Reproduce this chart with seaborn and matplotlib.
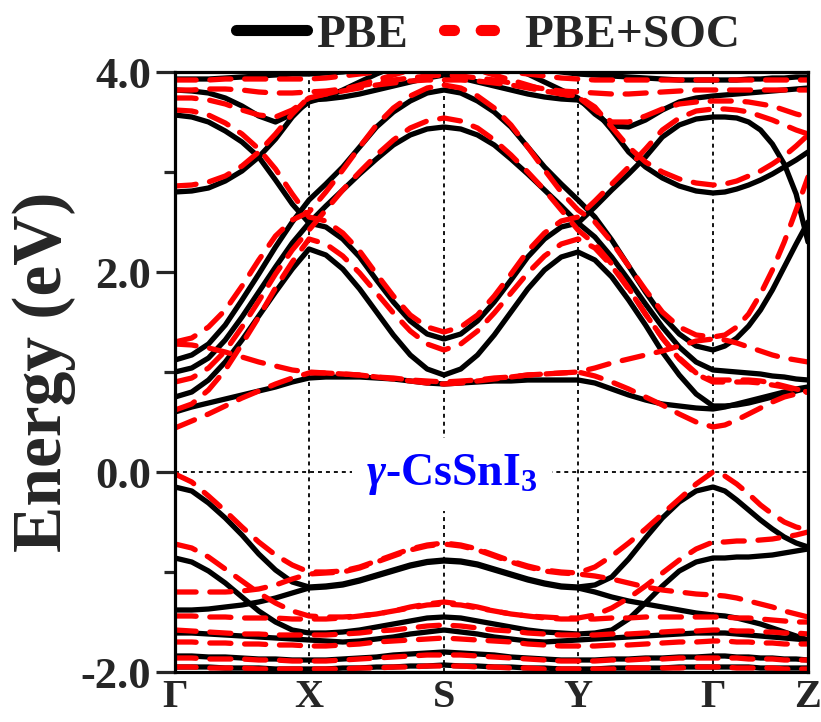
import numpy as np
import pandas as pd
import matplotlib
matplotlib.use("Agg")
import matplotlib.pyplot as plt
import seaborn as sns
from matplotlib.lines import Line2D

sns.set_theme(style="white")
plt.rcParams['font.family'] = ['Liberation Serif', 'DejaVu Serif']
plt.rcParams['font.weight'] = 'bold'
plt.rcParams['axes.unicode_minus'] = False
plt.rcParams['mathtext.fontset'] = 'custom'
plt.rcParams['mathtext.rm'] = 'Liberation Serif:bold'
plt.rcParams['mathtext.it'] = 'Liberation Serif:bold:italic'
plt.rcParams['mathtext.bf'] = 'Liberation Serif:bold'

# high-symmetry points (path distance) and labels
kpath_nodes = [0, 134, 269, 403, 538, 633]
kpath_labels = ['Γ', 'X', 'S', 'Y', 'Γ', 'Z']

# k grid: eighth points on every segment
kgrid = [0.0]
for a, b in zip(kpath_nodes[:-1], kpath_nodes[1:]):
    kgrid += list(np.linspace(a, b, 9)[1:])
kgrid = np.array(kgrid)

# ---- PBE bands (eV), Γ-X | X-S | S-Y | Y-Γ | Γ-Z ----
pbe_v1 = [-0.15, -0.19, -0.31, -0.46, -0.63, -0.82, -0.98, -1.10, -1.15,
          -1.14, -1.12, -1.08, -1.03, -0.98, -0.93, -0.895, -0.88,
          -0.89, -0.92, -0.97, -1.02, -1.07, -1.11, -1.14, -1.15,
          -1.13, -1.05, -0.87, -0.66, -0.46, -0.30, -0.19, -0.15,
          -0.19, -0.28, -0.38, -0.48, -0.57, -0.65, -0.71, -0.75]
pbe_v2 = [-0.86, -0.90, -0.99, -1.11, -1.25, -1.39, -1.50, -1.58, -1.61,
          -1.61, -1.60, -1.58, -1.55, -1.52, -1.49, -1.46, -1.45,
          -1.46, -1.49, -1.52, -1.55, -1.58, -1.60, -1.61, -1.62,
          -1.61, -1.58, -1.47, -1.31, -1.14, -0.99, -0.90, -0.86,
          -0.86, -0.85, -0.85, -0.84, -0.83, -0.81, -0.79, -0.77]
pbe_v3 = [-1.38, -1.38, -1.37, -1.35, -1.33, -1.30, -1.26, -1.21, -1.16,
          -1.15, -1.13, -1.09, -1.04, -0.99, -0.94, -0.905, -0.89,
          -0.90, -0.93, -0.98, -1.03, -1.08, -1.12, -1.15, -1.16,
          -1.20, -1.25, -1.29, -1.32, -1.35, -1.38, -1.41, -1.43,
          -1.44, -1.46, -1.49, -1.52, -1.56, -1.60, -1.64, -1.68]
pbe_v4 = [-1.61, -1.61, -1.62, -1.63, -1.64, -1.65, -1.66, -1.67, -1.68,
          -1.69, -1.70, -1.69, -1.67, -1.65, -1.62, -1.60, -1.58,
          -1.60, -1.62, -1.65, -1.67, -1.69, -1.70, -1.69, -1.68,
          -1.67, -1.66, -1.65, -1.64, -1.63, -1.62, -1.61, -1.61,
          -1.61, -1.62, -1.63, -1.64, -1.65, -1.66, -1.67, -1.68]
pbe_v5 = [-1.84, -1.84, -1.85, -1.85, -1.86, -1.87, -1.87, -1.88, -1.88,
          -1.88, -1.87, -1.86, -1.85, -1.83, -1.82, -1.81, -1.80,
          -1.81, -1.82, -1.83, -1.85, -1.86, -1.87, -1.88, -1.88,
          -1.88, -1.87, -1.87, -1.86, -1.86, -1.85, -1.85, -1.84,
          -1.84, -1.85, -1.85, -1.86, -1.86, -1.87, -1.87, -1.88]
pbe_v6 = [-1.95, -1.95, -1.95, -1.96, -1.96, -1.96, -1.97, -1.97, -1.97,
          -1.97, -1.96, -1.96, -1.95, -1.95, -1.94, -1.94, -1.93,
          -1.94, -1.94, -1.95, -1.95, -1.96, -1.96, -1.97, -1.97,
          -1.97, -1.96, -1.96, -1.96, -1.96, -1.95, -1.95, -1.95,
          -1.95, -1.95, -1.95, -1.96, -1.96, -1.96, -1.96, -1.96]
pbe_c1 = [0.60, 0.65, 0.69, 0.73, 0.77, 0.81, 0.85, 0.90, 0.94,
          0.95, 0.95, 0.95, 0.94, 0.93, 0.91, 0.89, 0.88,
          0.89, 0.90, 0.91, 0.91, 0.92, 0.92, 0.92, 0.92,
          0.89, 0.83, 0.77, 0.72, 0.68, 0.66, 0.64, 0.63,
          0.65, 0.68, 0.71, 0.74, 0.77, 0.80, 0.83, 0.85]
pbe_c2 = [0.75, 0.80, 0.92, 1.10, 1.32, 1.56, 1.80, 2.03, 2.23,
          2.17, 2.03, 1.83, 1.60, 1.37, 1.17, 1.03, 0.97,
          1.03, 1.17, 1.37, 1.60, 1.83, 2.02, 2.15, 2.20,
          2.12, 1.95, 1.72, 1.47, 1.20, 0.97, 0.78, 0.66,
          0.66, 0.67, 0.69, 0.72, 0.75, 0.78, 0.81, 0.84]
pbe_c3 = [3.57, 3.55, 3.50, 3.41, 3.30, 3.15, 2.92, 2.68, 2.49,
          2.45, 2.33, 2.15, 1.92, 1.70, 1.51, 1.38, 1.33,
          1.38, 1.51, 1.70, 1.92, 2.15, 2.33, 2.45, 2.49,
          2.65, 2.82, 2.98, 3.15, 3.35, 3.47, 3.53, 3.55,
          3.55, 3.54, 3.50, 3.42, 3.28, 3.08, 2.78, 2.30]
pbe_c4 = [1.00, 1.04, 1.14, 1.32, 1.55, 1.80, 2.05, 2.29, 2.49,
          2.66, 2.82, 2.98, 3.13, 3.27, 3.37, 3.43, 3.45,
          3.43, 3.37, 3.27, 3.13, 2.98, 2.82, 2.66, 2.49,
          2.35, 2.15, 1.92, 1.68, 1.45, 1.25, 1.10, 1.02,
          1.01, 1.00, 0.99, 0.98, 0.96, 0.95, 0.93, 0.92]
pbe_c5 = [1.12, 1.17, 1.28, 1.47, 1.72, 1.98, 2.25, 2.50, 2.72,
          2.88, 3.05, 3.25, 3.45, 3.60, 3.71, 3.79, 3.82,
          3.79, 3.71, 3.60, 3.45, 3.25, 3.05, 2.88, 2.72,
          2.55, 2.32, 2.06, 1.80, 1.56, 1.38, 1.26, 1.22,
          1.26, 1.34, 1.46, 1.62, 1.82, 2.05, 2.28, 2.50]
pbe_c6 = [2.80, 2.81, 2.84, 2.91, 3.01, 3.15, 3.33, 3.55, 3.72,
          3.73, 3.75, 3.78, 3.82, 3.86, 3.90, 3.94, 3.97,
          3.94, 3.90, 3.86, 3.82, 3.78, 3.75, 3.73, 3.72,
          3.62, 3.42, 3.20, 3.05, 2.94, 2.86, 2.81, 2.79,
          2.80, 2.83, 2.87, 2.92, 2.98, 3.05, 3.12, 3.20]
pbe_c7 = [3.82, 3.81, 3.79, 3.74, 3.66, 3.56, 3.50, 3.58, 3.70,
          3.75, 3.82, 3.90, 3.98, 4.05, 4.10, 4.10, 4.10,
          4.10, 4.10, 4.10, 4.05, 3.98, 3.90, 3.82, 3.74,
          3.58, 3.46, 3.45, 3.52, 3.62, 3.70, 3.74, 3.76,
          3.77, 3.78, 3.79, 3.80, 3.81, 3.82, 3.83, 3.84]
pbe_c8 = [3.93, 3.93, 3.93, 3.94, 3.95, 3.96, 3.97, 3.98, 3.98,
          3.99, 4.00, 4.02, 4.04, 4.06, 4.08, 4.10, 4.10,
          4.10, 4.10, 4.08, 4.06, 4.04, 4.02, 4.00, 3.98,
          3.97, 3.96, 3.95, 3.94, 3.93, 3.92, 3.92, 3.92,
          3.92, 3.92, 3.93, 3.93, 3.94, 3.94, 3.95, 3.95]

# ---- PBE+SOC bands (eV) ----
soc_v1 = [-0.02, -0.10, -0.24, -0.39, -0.55, -0.70, -0.83, -0.93, -1.00,
          -1.00, -0.99, -0.95, -0.89, -0.83, -0.77, -0.73, -0.71,
          -0.73, -0.77, -0.83, -0.89, -0.94, -0.98, -1.00, -1.01,
          -0.95, -0.84, -0.71, -0.57, -0.42, -0.27, -0.12, 0.00,
          -0.04, -0.12, -0.22, -0.33, -0.42, -0.50, -0.55, -0.58]
soc_v2 = [-0.72, -0.76, -0.85, -0.97, -1.09, -1.21, -1.31, -1.39, -1.44,
          -1.45, -1.45, -1.44, -1.42, -1.39, -1.35, -1.32, -1.30,
          -1.32, -1.35, -1.39, -1.42, -1.44, -1.45, -1.46, -1.46,
          -1.43, -1.36, -1.26, -1.14, -1.01, -0.88, -0.77, -0.70,
          -0.70, -0.69, -0.69, -0.68, -0.67, -0.65, -0.63, -0.60]
soc_v3 = [-1.20, -1.20, -1.20, -1.20, -1.19, -1.17, -1.13, -1.07, -1.02,
          -1.01, -1.00, -0.96, -0.90, -0.84, -0.78, -0.74, -0.72,
          -0.74, -0.78, -0.84, -0.90, -0.95, -0.99, -1.01, -1.02,
          -1.04, -1.07, -1.11, -1.15, -1.18, -1.20, -1.22, -1.23,
          -1.24, -1.26, -1.29, -1.32, -1.35, -1.39, -1.42, -1.45]
soc_v4 = [-1.44, -1.44, -1.45, -1.45, -1.46, -1.46, -1.46, -1.47, -1.47,
          -1.47, -1.46, -1.44, -1.42, -1.39, -1.36, -1.33, -1.32,
          -1.33, -1.36, -1.39, -1.42, -1.44, -1.46, -1.47, -1.47,
          -1.47, -1.46, -1.46, -1.45, -1.45, -1.45, -1.45, -1.45,
          -1.45, -1.46, -1.46, -1.47, -1.48, -1.49, -1.50, -1.50]
soc_v5 = [-1.58, -1.59, -1.60, -1.61, -1.62, -1.62, -1.63, -1.63, -1.63,
          -1.63, -1.62, -1.61, -1.59, -1.58, -1.56, -1.54, -1.53,
          -1.54, -1.56, -1.58, -1.59, -1.61, -1.62, -1.63, -1.63,
          -1.63, -1.62, -1.62, -1.61, -1.60, -1.59, -1.59, -1.58,
          -1.58, -1.59, -1.59, -1.60, -1.60, -1.61, -1.61, -1.62]
soc_v6 = [-1.70, -1.70, -1.71, -1.71, -1.72, -1.72, -1.73, -1.73, -1.74,
          -1.74, -1.73, -1.72, -1.70, -1.69, -1.68, -1.67, -1.66,
          -1.67, -1.68, -1.69, -1.70, -1.72, -1.73, -1.74, -1.74,
          -1.74, -1.73, -1.73, -1.72, -1.71, -1.70, -1.70, -1.69,
          -1.69, -1.70, -1.70, -1.71, -1.71, -1.72, -1.72, -1.72]
soc_v7 = [-1.86, -1.86, -1.87, -1.87, -1.87, -1.88, -1.88, -1.89, -1.89,
          -1.89, -1.88, -1.87, -1.86, -1.85, -1.84, -1.83, -1.83,
          -1.83, -1.84, -1.85, -1.86, -1.87, -1.88, -1.89, -1.89,
          -1.89, -1.88, -1.88, -1.87, -1.87, -1.86, -1.86, -1.86,
          -1.86, -1.86, -1.87, -1.87, -1.87, -1.88, -1.88, -1.88]
soc_v8 = [-1.95, -1.95, -1.96, -1.96, -1.96, -1.97, -1.97, -1.97, -1.97,
          -1.97, -1.97, -1.96, -1.96, -1.95, -1.95, -1.94, -1.94,
          -1.94, -1.95, -1.95, -1.96, -1.96, -1.97, -1.97, -1.97,
          -1.97, -1.97, -1.96, -1.96, -1.96, -1.96, -1.95, -1.95,
          -1.95, -1.96, -1.96, -1.96, -1.96, -1.97, -1.97, -1.97]
soc_c1 = [0.44, 0.51, 0.58, 0.66, 0.74, 0.81, 0.88, 0.94, 0.99,
          0.99, 0.98, 0.97, 0.95, 0.93, 0.91, 0.89, 0.88,
          0.89, 0.91, 0.93, 0.95, 0.97, 0.98, 0.99, 1.00,
          0.96, 0.90, 0.83, 0.75, 0.67, 0.58, 0.50, 0.45,
          0.47, 0.52, 0.58, 0.64, 0.70, 0.75, 0.78, 0.80]
soc_c2 = [1.28, 1.27, 1.24, 1.20, 1.15, 1.10, 1.06, 1.02, 1.00,
          0.99, 0.98, 0.97, 0.95, 0.94, 0.92, 0.91, 0.90,
          0.91, 0.92, 0.94, 0.95, 0.97, 0.98, 0.99, 1.00,
          1.04, 1.09, 1.13, 1.17, 1.21, 1.26, 1.31, 1.33,
          1.32, 1.29, 1.25, 1.21, 1.17, 1.14, 1.12, 1.10]
soc_c3 = [0.62, 0.68, 0.82, 1.02, 1.28, 1.55, 1.84, 2.10, 2.33,
          2.28, 2.16, 1.99, 1.79, 1.59, 1.41, 1.28, 1.22,
          1.28, 1.41, 1.59, 1.79, 1.99, 2.16, 2.28, 2.33,
          2.24, 2.06, 1.83, 1.58, 1.34, 1.13, 0.98, 0.90,
          0.90, 0.90, 0.90, 0.89, 0.87, 0.85, 0.82, 0.80]
soc_c4 = [3.62, 3.61, 3.57, 3.49, 3.38, 3.23, 3.03, 2.78, 2.55,
          2.51, 2.39, 2.21, 1.98, 1.76, 1.57, 1.45, 1.40,
          1.45, 1.57, 1.76, 1.98, 2.21, 2.39, 2.51, 2.55,
          2.71, 2.88, 3.05, 3.23, 3.42, 3.54, 3.61, 3.63,
          3.63, 3.62, 3.60, 3.56, 3.52, 3.47, 3.42, 3.38]
soc_c5 = [0.90, 0.94, 1.04, 1.21, 1.45, 1.71, 1.98, 2.22, 2.42,
          2.62, 2.82, 3.00, 3.17, 3.32, 3.44, 3.51, 3.54,
          3.51, 3.44, 3.32, 3.17, 3.00, 2.82, 2.62, 2.42,
          2.28, 2.08, 1.84, 1.58, 1.34, 1.14, 0.99, 0.92,
          0.92, 0.92, 0.92, 0.91, 0.89, 0.86, 0.83, 0.80]
soc_c6 = [1.30, 1.34, 1.45, 1.62, 1.86, 2.12, 2.36, 2.52, 2.60,
          2.80, 3.02, 3.25, 3.47, 3.64, 3.76, 3.84, 3.87,
          3.84, 3.76, 3.64, 3.47, 3.25, 3.02, 2.80, 2.62,
          2.50, 2.30, 2.06, 1.82, 1.60, 1.45, 1.37, 1.35,
          1.37, 1.45, 1.58, 1.78, 2.02, 2.30, 2.62, 2.95]
soc_c7 = [2.86, 2.87, 2.90, 2.96, 3.06, 3.20, 3.38, 3.58, 3.75,
          3.78, 3.82, 3.87, 3.92, 3.97, 4.02, 4.06, 4.08,
          4.06, 4.02, 3.97, 3.92, 3.87, 3.82, 3.78, 3.76,
          3.65, 3.45, 3.25, 3.10, 3.00, 2.93, 2.89, 2.87,
          2.88, 2.91, 2.96, 3.01, 3.08, 3.16, 3.26, 3.37]
soc_c8 = [3.74, 3.74, 3.72, 3.68, 3.62, 3.57, 3.55, 3.62, 3.74,
          3.78, 3.81, 3.84, 3.87, 3.89, 3.91, 3.92, 3.92,
          3.92, 3.91, 3.89, 3.87, 3.84, 3.81, 3.78, 3.75,
          3.62, 3.50, 3.50, 3.56, 3.63, 3.68, 3.70, 3.71,
          3.71, 3.71, 3.70, 3.68, 3.66, 3.62, 3.58, 3.55]
soc_c9 = [3.82, 3.82, 3.83, 3.83, 3.82, 3.80, 3.79, 3.79, 3.80,
          3.81, 3.83, 3.86, 3.89, 3.92, 3.94, 3.96, 3.97,
          3.96, 3.94, 3.92, 3.89, 3.86, 3.83, 3.81, 3.80,
          3.79, 3.78, 3.78, 3.79, 3.80, 3.81, 3.82, 3.82,
          3.82, 3.82, 3.82, 3.82, 3.82, 3.82, 3.82, 3.82]
soc_c10 = [3.92, 3.92, 3.92, 3.93, 3.93, 3.93, 3.93, 3.93, 3.93,
           3.94, 3.96, 3.98, 4.00, 4.02, 4.04, 4.06, 4.07,
           4.06, 4.04, 4.02, 4.00, 3.98, 3.96, 3.94, 3.93,
           3.92, 3.92, 3.92, 3.92, 3.92, 3.92, 3.92, 3.92,
           3.92, 3.92, 3.92, 3.92, 3.92, 3.92, 3.92, 3.92]

pbe_bands = [pbe_v1, pbe_v2, pbe_v3, pbe_v4, pbe_v5, pbe_v6,
             pbe_c1, pbe_c2, pbe_c3, pbe_c4, pbe_c5, pbe_c6, pbe_c7, pbe_c8]
soc_bands = [soc_v1, soc_v2, soc_v3, soc_v4, soc_v5, soc_v6, soc_v7, soc_v8,
             soc_c1, soc_c2, soc_c3, soc_c4, soc_c5, soc_c6, soc_c7, soc_c8, soc_c9, soc_c10]

rows = []
for i, b in enumerate(pbe_bands):
    assert len(b) == len(kgrid), ('pbe', i, len(b))
    for k, e in zip(kgrid, b):
        rows.append(('PBE', f'p{i}', k, e))
for i, b in enumerate(soc_bands):
    assert len(b) == len(kgrid), ('soc', i, len(b))
    for k, e in zip(kgrid, b):
        rows.append(('PBE+SOC', f's{i}', k, e))
df = pd.DataFrame(rows, columns=['method', 'band', 'k', 'E'])

fig = plt.figure(figsize=(8.21, 7.22), dpi=100)
ax = fig.add_axes([175/821, 50/722, 633/821, 600/722])

# guide lines
for xv in kpath_nodes[1:-1]:
    ax.axvline(xv, color='black', lw=1.3, ls=(0, (2.2, 2.2)), zorder=1)
ax.axhline(0, color='black', lw=1.3, ls=(0, (2.2, 2.2)), zorder=1)

sns.lineplot(data=df[df.method == 'PBE'], x='k', y='E', units='band', estimator=None,
             color='black', lw=3.8, sort=False, ax=ax, zorder=2,
             solid_capstyle='round', solid_joinstyle='round', legend=False)
sns.lineplot(data=df[df.method == 'PBE+SOC'], x='k', y='E', units='band', estimator=None,
             color='#ff0000', lw=3.8, sort=False, ax=ax, zorder=3,
             dashes=False, ls=(0, (4.0, 2.6)), dash_capstyle='round', legend=False)

ax.set_xlim(kpath_nodes[0], kpath_nodes[-1])
ax.set_ylim(-2.0, 4.0)
ax.set_xticks(kpath_nodes)
ax.set_xticklabels(kpath_labels, fontsize=29, fontweight='bold')
ax.set_yticks([4.0, 2.0, 0.0, -2.0])
ax.set_yticklabels(['4.0', '2.0', '0.0', '-2.0'], fontsize=32, fontweight='bold')
ax.set_yticks([3.0, 1.0, -1.0], minor=True)
ax.tick_params(axis='y', which='major', direction='out', length=14, width=2.3, left=True, pad=3)
ax.tick_params(axis='y', which='minor', direction='out', length=8, width=2.3, left=True)
ax.tick_params(axis='x', which='both', length=0, pad=5)
ax.set_xlabel('')
ax.set_ylabel('Energy (eV)', fontsize=50, fontweight='bold')
ax.yaxis.set_label_coords(-0.156, 0.5)
for s in ax.spines.values():
    s.set_linewidth(2.3)
    s.set_color('black')
    s.set_zorder(5)

ax.text(277, -0.13, r'$\gamma$-CsSnI$_3$', color='#0000ff', fontsize=33,
        fontweight='bold', ha='center', va='baseline', zorder=6,
        bbox=dict(facecolor='white', edgecolor='none', boxstyle='square,pad=0.3'))

handles = [Line2D([0], [0], color='black', lw=8, solid_capstyle='round'),
           Line2D([0], [0], color='#ff0000', lw=8, ls=(0.3, (1.2, 2.4)), dash_capstyle='round')]
fig.legend(handles, ['PBE', 'PBE+SOC'], loc='center', bbox_to_anchor=(488/821, 1 - 35/722),
           ncol=2, frameon=False, handlelength=1.5, handletextpad=0.2,
           columnspacing=0.75, prop={'weight': 'bold', 'size': 34})

fig.savefig('out.png', dpi=100)
